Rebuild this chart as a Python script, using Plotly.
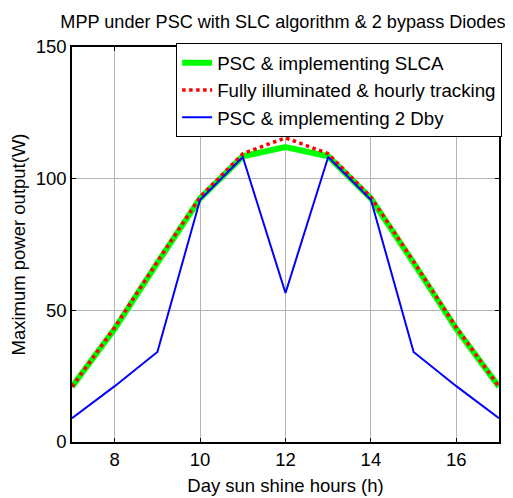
import plotly.graph_objects as go

hours = [7, 8, 9, 10, 11, 12, 13, 14, 15, 16, 17]
slca = [21, 43, 68, 92.5, 108.5, 112, 108.5, 92.5, 68, 43, 21]
full = [21, 43.5, 68.5, 93, 109.5, 115.5, 109.5, 93, 68.5, 43.5, 21]
dby2 = [9, 21.2, 34.2, 92, 108.2, 56.6, 108.2, 92, 34.2, 21.2, 9]

x_ticks = [8, 10, 12, 14, 16]
y_ticks = [0, 50, 100, 150]

names = ["PSC & implementing SLCA", "Fully illuminated & hourly tracking",
         "PSC & implementing 2 Dby"]

FONT = "Liberation Sans, Arial, sans-serif"

fig = go.Figure()
fig.add_trace(go.Scatter(x=hours, y=slca, mode="lines", name=names[0],
                         line=dict(color="#00ff00", width=6)))
fig.add_trace(go.Scatter(x=hours, y=full, mode="lines", name=names[1],
                         line=dict(color="#ff0000", width=3.5, dash="dot")))
fig.add_trace(go.Scatter(x=hours, y=dby2, mode="lines", name=names[2],
                         line=dict(color="#0000ff", width=2)))

axis_common = dict(showline=True, linecolor="black", linewidth=1.5, mirror="ticks",
                   ticks="inside", ticklen=4, tickcolor="black",
                   showgrid=True, gridcolor="#b4b4b4", gridwidth=1,
                   zeroline=False, automargin=False,
                   tickfont=dict(size=18.5, color="black", family=FONT))

fig.update_xaxes(range=[7, 17], tickvals=x_ticks,
                 title=dict(text="Day sun shine hours (h)", font=dict(size=18.5, color="black", family=FONT), standoff=10),
                 **axis_common)
fig.update_yaxes(range=[0, 150], tickvals=y_ticks,
                 title=dict(text="Maximum power output(W)", font=dict(size=18.5, color="black", family=FONT), standoff=5),
                 **axis_common)

W, H = 505, 490
fig.update_layout(
    width=W, height=H,
    margin=dict(l=64, r=13, t=39, b=56, pad=0),
    paper_bgcolor="white", plot_bgcolor="white",
    font=dict(family=FONT, color="black", size=18),
    title=dict(text="MPP under PSC with SLC algorithm & 2 bypass Diodes",
               x=0.494, xref="paper", xanchor="center",
               y=1 - 14 / H, yref="container", yanchor="middle", automargin=False,
               font=dict(size=18.1, color="black", family=FONT)),
    legend=dict(x=1.005, y=1.01, xanchor="right", yanchor="top",
                bgcolor="white", bordercolor="black", borderwidth=1,
                font=dict(size=18.7, color="black", family=FONT),
                tracegroupgap=0),
    showlegend=True,
)

fig.write_html("out.html")
